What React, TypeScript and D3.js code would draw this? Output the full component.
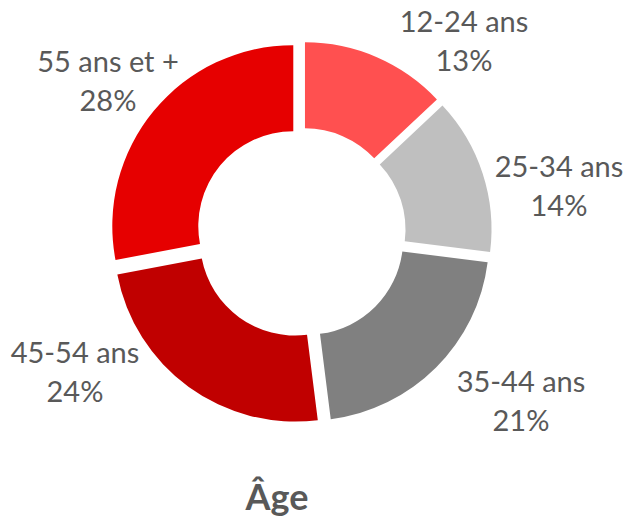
import React from 'react';
import * as d3 from 'd3';

// données
const categories = ['12-24 ans', '25-34 ans', '35-44 ans', '45-54 ans', '55 ans et +'];
const shares = [13, 14, 21, 24, 28];
const colors = ['#FF5050', '#BFBFBF', '#808080', '#C00000', '#E60000'];
// position du centre des étiquettes (x, ligne de base de la 1re ligne)
const labelAnchors: [number, number][] = [
  [464, 32],
  [559, 177],
  [521, 392],
  [75, 363],
  [108, 72],
];
const title = 'Âge';

const W = 623;
const H = 524;
const cx = 301;
const cy = 232.5;
const outerR = 181;
const innerR = 95;
const explode = 10;

const App = () => {
  const pie = d3.pie<number>().sort(null).value((d) => d);
  const arcs = pie(shares);
  const arc = d3.arc<d3.PieArcDatum<number>>().innerRadius(innerR).outerRadius(outerR);
  const font = "Lato, 'Open Sans', sans-serif";

  return (
    <svg width={W} height={H} style={{ position: 'absolute', left: 0, top: 0 }}>
      <g transform={`translate(${cx},${cy})`}>
        {arcs.map((a, i) => {
          const mid = (a.startAngle + a.endAngle) / 2;
          const dx = explode * Math.sin(mid);
          const dy = -explode * Math.cos(mid);
          return (
            <path
              key={categories[i]}
              d={arc(a) || ''}
              fill={colors[i]}
              transform={`translate(${dx},${dy})`}
            />
          );
        })}
      </g>
      {categories.map((c, i) => (
        <text
          key={c}
          x={labelAnchors[i][0]}
          y={labelAnchors[i][1]}
          textAnchor="middle"
          fontFamily={font}
          fontSize={29}
          fill="#595959"
        >
          <tspan x={labelAnchors[i][0]}>{c}</tspan>
          <tspan x={labelAnchors[i][0]} dy={39}>{`${shares[i]}%`}</tspan>
        </text>
      ))}
      <text
        x={277}
        y={510}
        textAnchor="middle"
        fontFamily={font}
        fontSize={36}
        fontWeight="bold"
        fill="#595959"
      >
        {title}
      </text>
    </svg>
  );
};

export default App;
